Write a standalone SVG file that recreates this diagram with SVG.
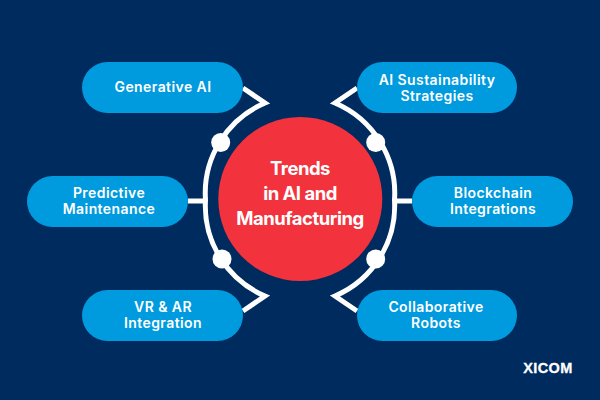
<svg xmlns="http://www.w3.org/2000/svg" width="600" height="400" viewBox="0 0 600 400">
<style>
.pill{fill:#009ade}
.lbl{font-family:Inter,"Liberation Sans",sans-serif;font-weight:600;font-size:14px;fill:#fff;text-anchor:middle;letter-spacing:.42px}
.ttl{font-family:Inter,"Liberation Sans",sans-serif;font-weight:700;font-size:18.5px;fill:#fff;text-anchor:middle;letter-spacing:-.5px}
.ln{fill:none;stroke:#fff;stroke-width:5}
.dot{fill:#fff}
</style>
<rect width="600" height="400" fill="#002b5e"/>
<g id="connectors">
<path class="ln" d="M243 88 L265 103 A98 98 0 0 0 205.500 200 A98 98 0 0 0 265 296 L243 311"/>
<path class="ln" d="M357 88 L335 103 A98 98 0 0 1 394.500 200 A98 98 0 0 1 335 296 L357 311"/>
<path class="ln" d="M188 201 H205"/>
<path class="ln" d="M395 201 H412"/>
<circle class="dot" cx="220.700" cy="142.500" r="9.500"/>
<circle class="dot" cx="375.700" cy="142.500" r="9.500"/>
<circle class="dot" cx="222" cy="259" r="9.500"/>
<circle class="dot" cx="375.700" cy="259" r="9.500"/>
</g>
<g id="center"><circle cx="300.300" cy="199" r="82" fill="#f2323c"/>
<text class="ttl" x="300" y="175">Trends</text>
<text class="ttl" x="300" y="200">in AI and</text>
<text class="ttl" x="300" y="225">Manufacturing</text></g>
<g id="n1"><rect class="pill" x="82" y="62" width="161" height="51" rx="25.500"/><text class="lbl" x="163" y="92">Generative AI</text></g>
<g id="n2"><rect class="pill" x="357" y="62" width="160" height="51" rx="25.500"/><text class="lbl" x="437" y="85">AI Sustainability</text><text class="lbl" x="437" y="101">Strategies</text></g>
<g id="n3"><rect class="pill" x="27" y="176" width="161" height="51" rx="25.500"/><text class="lbl" x="109" y="198">Predictive</text><text class="lbl" x="109" y="214">Maintenance</text></g>
<g id="n4"><rect class="pill" x="412" y="176" width="161" height="51" rx="25.500"/><text class="lbl" x="493" y="198">Blockchain</text><text class="lbl" x="493" y="214">Integrations</text></g>
<g id="n5"><rect class="pill" x="82" y="290" width="161" height="51" rx="25.500"/><text class="lbl" x="163" y="312">VR &amp; AR</text><text class="lbl" x="163" y="328">Integration</text></g>
<g id="n6"><rect class="pill" x="357" y="290" width="160" height="51" rx="25.500"/><text class="lbl" x="436" y="312">Collaborative</text><text class="lbl" x="436" y="328">Robots</text></g>
<text x="548" y="373" font-family="Liberation Sans,sans-serif" font-weight="700" font-size="14.500" fill="#fff" stroke="#fff" stroke-width=".3" text-anchor="middle" letter-spacing=".4">XICOM</text>
</svg>
